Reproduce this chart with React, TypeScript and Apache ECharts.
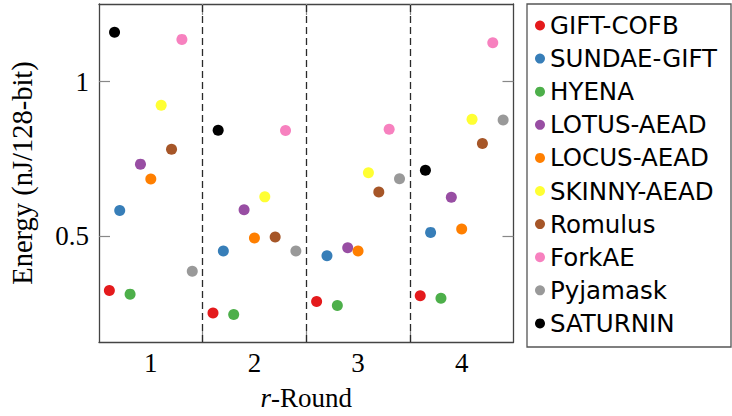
import React, { useEffect, useRef } from "react";
import * as echarts from "echarts";

const rounds = [1, 2, 3, 4];
const dividers = [1.5, 2.5, 3.5];
const yTicks = [0.5, 1];
const seriesNames = [
  "GIFT-COFB",
  "SUNDAE-GIFT",
  "HYENA",
  "LOTUS-AEAD",
  "LOCUS-AEAD",
  "SKINNY-AEAD",
  "Romulus",
  "ForkAE",
  "Pyjamask",
  "SATURNIN",
];
const giftCofb = [0.324, 0.251, 0.288, 0.307];
const sundaeGift = [0.583, 0.452, 0.436, 0.512];
const hyena = [0.312, 0.246, 0.275, 0.299];
const lotusAead = [0.733, 0.585, 0.462, 0.626];
const locusAead = [0.685, 0.494, 0.452, 0.523];
const skinnyAead = [0.924, 0.627, 0.705, 0.878];
const romulus = [0.781, 0.497, 0.643, 0.8];
const forkAe = [1.137, 0.842, 0.846, 1.126];
const pyjamask = [0.386, 0.452, 0.686, 0.876];
const saturnin = [1.16, 0.843, null, 0.713];
const seriesValues = [
  giftCofb,
  sundaeGift,
  hyena,
  lotusAead,
  locusAead,
  skinnyAead,
  romulus,
  forkAe,
  pyjamask,
  saturnin,
];
// horizontal dodge of each series within its round group
const dodge = [-0.4, -0.3, -0.2, -0.1, 0, 0.1, 0.2, 0.3, 0.4, -0.35];
const colors = [
  "#e41a1c",
  "#377eb8",
  "#4daf4a",
  "#984ea3",
  "#ff7f00",
  "#ffff33",
  "#a65628",
  "#f781bf",
  "#999999",
  "#000000",
];

const SERIF = "'Liberation Serif', 'DejaVu Serif', serif";
const SANS = "'DejaVu Sans', sans-serif";

export default function App() {
  const ref = useRef<HTMLDivElement>(null);
  useEffect(() => {
    if (!ref.current) return;
    const chart = echarts.init(ref.current, undefined, { renderer: "svg" });
    const frame = "#444";
    const tickColor = "#888";
    const xBase = {
      type: "value",
      min: 0.5,
      max: 4.5,
      splitLine: { show: false },
      axisLine: { show: true, lineStyle: { color: frame, width: 1.3 } },
      axisTick: {
        show: true,
        inside: true,
        length: 11,
        customValues: dividers,
        lineStyle: { color: tickColor, width: 1.2 },
      },
    };
    const yBase = {
      type: "value",
      min: 0.157,
      max: 1.2516,
      splitLine: { show: false },
      axisLine: { show: true, lineStyle: { color: frame, width: 1.3 } },
      axisTick: {
        show: true,
        inside: true,
        length: 11,
        customValues: yTicks,
        lineStyle: { color: tickColor, width: 1.2 },
      },
    };
    const series: any[] = seriesNames.map((name, i) => ({
      name,
      type: "scatter",
      xAxisIndex: 0,
      yAxisIndex: 0,
      symbol: "circle",
      symbolSize: 11,
      itemStyle: { color: colors[i], opacity: 1 },
      data: rounds
        .map((r, j) => [r + dodge[i], seriesValues[i][j]])
        .filter((d) => d[1] !== null),
    }));
    series[0].markLine = {
      silent: true,
      symbol: "none",
      label: { show: false },
      lineStyle: { type: [7, 4], color: "#2a2a2a", width: 1.3 },
      data: dividers.map((x) => ({ xAxis: x })),
    };
    chart.setOption({
      animation: false,
      backgroundColor: "#fff",
      grid: { left: 99, top: 4, right: 218.5, bottom: 68.3, containLabel: false },
      xAxis: [
        {
          ...xBase,
          position: "bottom",
          axisLabel: {
            show: true,
            customValues: rounds,
            margin: 7,
            fontFamily: SERIF,
            fontSize: 27,
            color: "#000",
          },
          name: "{i|r}-Round",
          nameLocation: "middle",
          nameGap: 42,
          nameTextStyle: {
            fontFamily: SERIF,
            fontSize: 27,
            color: "#000",
            rich: {
              i: { fontFamily: SERIF, fontSize: 27, fontStyle: "italic", color: "#000" },
            },
          },
        },
        { ...xBase, position: "top", axisLabel: { show: false } },
      ],
      yAxis: [
        {
          ...yBase,
          position: "left",
          axisLabel: {
            show: true,
            customValues: yTicks,
            margin: 10,
            fontFamily: SERIF,
            fontSize: 27,
            color: "#000",
          },
          name: "Energy (nJ/128-bit)",
          nameLocation: "middle",
          nameGap: 62,
          nameTextStyle: { fontFamily: SERIF, fontSize: 28.5, color: "#000" },
        },
        { ...yBase, position: "right", axisLabel: { show: false } },
      ],
      legend: {
        orient: "vertical",
        left: 530,
        top: 8,
        icon: "circle",
        itemWidth: 10,
        itemHeight: 10,
        itemGap: 8.1,
        data: seriesNames,
        textStyle: {
          fontFamily: SANS,
          fontSize: 24.5,
          lineHeight: 25,
          color: "#000",
        },
      },
      graphic: [
        {
          type: "rect",
          shape: { x: 527, y: 4, width: 204, height: 343 },
          style: { fill: "none", stroke: "#555", lineWidth: 1.3 },
          silent: true,
        },
      ],
      series,
    });
    return () => chart.dispose();
  }, []);
  return (
    <div
      ref={ref}
      style={{ position: "fixed", left: 0, top: 0, width: 732, height: 416 }}
    />
  );
}
